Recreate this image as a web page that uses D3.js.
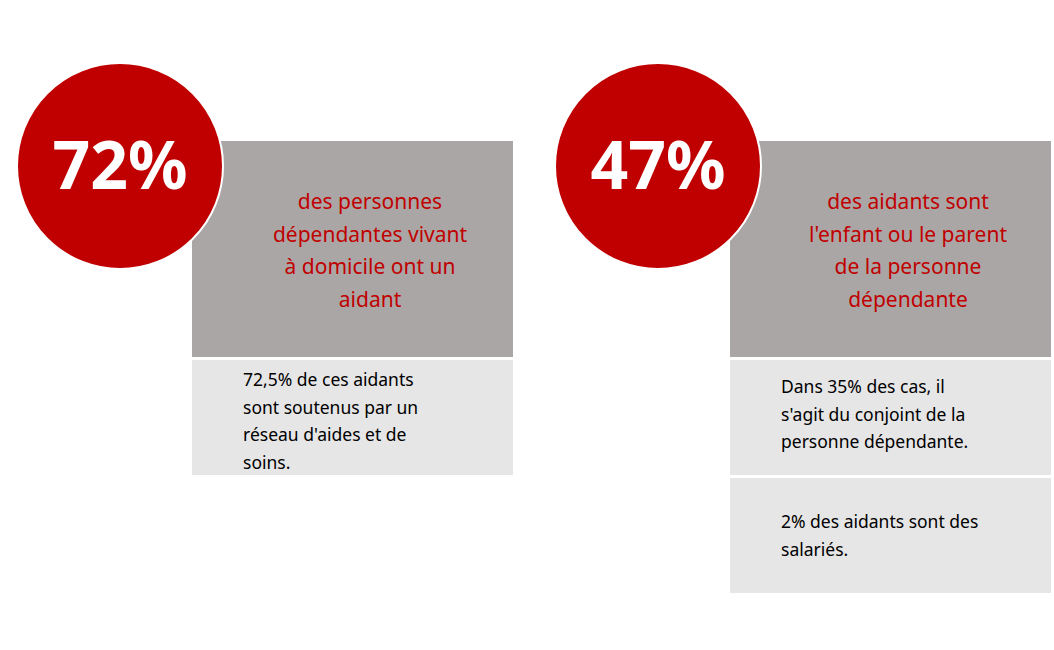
<!DOCTYPE html>
<html><head><meta charset="utf-8">
<script src="https://cdn.jsdelivr.net/npm/d3@7"></script>
<style>body{margin:0;background:#fff}</style></head>
<body><svg id="c" width="1054" height="650"></svg>
<script>
const percents = ["72%", "47%"];
const headlines = [
  ["des personnes", "dépendantes vivant", "à domicile ont un", "aidant"],
  ["des aidants sont", "l'enfant ou le parent", "de la personne", "dépendante"]
];
const details = [
  [["72,5% de ces aidants", "sont soutenus par un", "réseau d'aides et de", "soins."]],
  [["Dans 35% des cas, il", "s'agit du conjoint de la", "personne dépendante."], ["2% des aidants sont des", "salariés."]]
];
const svg = d3.select("#c");
const font = "Noto Sans, Open Sans, sans-serif";
const px = d3.scaleOrdinal().domain([0,1]).range([192, 730]);
percents.forEach((p, i) => {
  const x0 = px(i);
  const g = svg.append("g");
  g.append("rect").attr("x", x0).attr("y", 141).attr("width", 321).attr("height", 216).attr("fill", "#aba6a6");
  const hl = g.append("text").attr("font-family", font).attr("font-size", 21).attr("fill", "#c00000").attr("text-anchor", "middle");
  headlines[i].forEach((t, j) => hl.append("tspan").attr("x", x0 + 178).attr("y", 209 + j * 32.5).text(t));
  details[i].forEach((lines, k) => {
    const y0 = 360 + k * 118;
    g.append("rect").attr("x", x0).attr("y", y0).attr("width", 321).attr("height", 115).attr("fill", "#e6e6e6");
    const n = lines.length;
    const tx = g.append("text").attr("font-family", font).attr("font-size", 17.5).attr("fill", "#000");
    const ystart = k === 0 ? (n === 4 ? y0 + 26 : y0 + 33) : y0 + 50;
    lines.forEach((t, j) => tx.append("tspan").attr("x", x0 + 51).attr("y", ystart + j * 27.5).text(t));
  });
  const cx = x0 - 72;
  g.append("circle").attr("cx", cx).attr("cy", 166).attr("r", 103).attr("fill", "#c00000").attr("stroke", "#fff").attr("stroke-width", 2);
  g.append("text").attr("x", cx).attr("y", 189).attr("text-anchor", "middle").attr("font-family", font)
    .attr("font-weight", "bold").attr("font-size", 66).attr("fill", "#fff").text(p);
});
</script></body></html>
